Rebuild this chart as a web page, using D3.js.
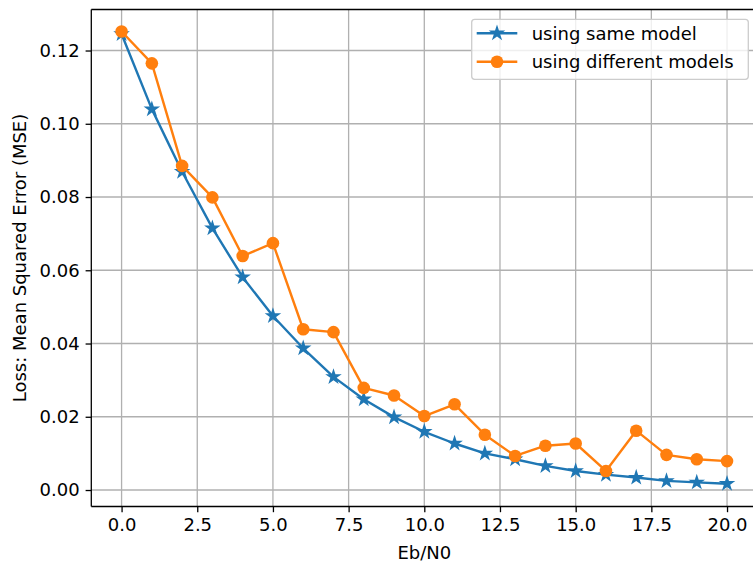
<!DOCTYPE html>
<html><head><meta charset="utf-8">
<script src="https://cdn.jsdelivr.net/npm/d3@7"></script>
<style>body{margin:0;background:#fff;} svg{display:block;font-family:"DejaVu Sans",sans-serif;}</style>
</head><body>
<svg id="c" width="753" height="562"></svg>
<script>
const xValues = d3.range(0, 21);
const sameModel = [0.1245,0.104,0.0869,0.0715,0.0581,0.0475,0.0387,0.0309,0.0248,0.0199,0.0159,0.0127,0.0100,0.0084,0.0066,0.0052,0.0042,0.0034,0.0025,0.0021,0.0017];
const diffModels = [0.1252,0.1165,0.0885,0.0799,0.0639,0.0674,0.0439,0.0431,0.0279,0.0258,0.0202,0.0234,0.0151,0.0093,0.0121,0.0127,0.0052,0.0162,0.0096,0.0084,0.0079];
const xTicks = [0, 2.5, 5, 7.5, 10, 12.5, 15, 17.5, 20];
const yTicks = [0, 0.02, 0.04, 0.06, 0.08, 0.10, 0.12];
const seriesNames = ["using same model", "using different models"];
const colors = ["#1f77b4", "#ff7f0e"];

const svg = d3.select("#c");
const L = 91.3, R = 757.3, T = 9.5, B = 506.5;
const x = d3.scaleLinear().domain([-1, 21]).range([L, R]);
const y = d3.scaleLinear().domain([-0.0045, 0.1312]).range([B, T]);
const fs = 18;

// grid
const g = svg.append("g");
g.selectAll(".gx").data(xTicks).join("line")
  .attr("x1", d => x(d)).attr("x2", d => x(d)).attr("y1", T).attr("y2", B)
  .attr("stroke", "#b0b0b0").attr("stroke-width", 1.3);
g.selectAll(".gy").data(yTicks).join("line")
  .attr("y1", d => y(d)).attr("y2", d => y(d)).attr("x1", L).attr("x2", R)
  .attr("stroke", "#b0b0b0").attr("stroke-width", 1.3);

// axes
const xAxis = d3.axisBottom(x).tickValues(xTicks).tickFormat(d3.format(".1f")).tickSizeInner(5.7).tickSizeOuter(0).tickPadding(6);
const yAxis = d3.axisLeft(y).tickValues(yTicks).tickFormat(d3.format(".2f")).tickSizeInner(5.7).tickSizeOuter(0).tickPadding(6);
const gx = svg.append("g").attr("transform", `translate(0,${B})`).call(xAxis);
const gy = svg.append("g").attr("transform", `translate(${L},0)`).call(yAxis);
[gx, gy].forEach(a => {
  a.select(".domain").remove();
  a.selectAll(".tick line").attr("stroke", "#000").attr("stroke-width", 1.3);
  a.selectAll(".tick text").attr("fill", "#000").attr("font-size", fs).attr("font-family", "DejaVu Sans");
});
// spines
svg.append("line").attr("x1", L).attr("x2", R).attr("y1", B).attr("y2", B).attr("stroke", "#000").attr("stroke-width", 1.3);
svg.append("line").attr("x1", L).attr("x2", R).attr("y1", T).attr("y2", T).attr("stroke", "#000").attr("stroke-width", 1.3);
svg.append("line").attr("x1", L).attr("x2", L).attr("y1", T).attr("y2", B).attr("stroke", "#000").attr("stroke-width", 1.3);

// labels
svg.append("text").attr("x", (L + R) / 2).attr("y", 559).attr("text-anchor", "middle")
  .attr("font-size", fs).text("Eb/N0");
svg.append("text").attr("transform", `translate(26,${(T + B) / 2}) rotate(-90)`).attr("text-anchor", "middle")
  .attr("font-size", fs).text("Loss: Mean Squared Error (MSE)");

const star = d3.symbol().type(d3.symbolStar).size(85);
const line = d3.line().x((d, i) => x(xValues[i])).y(d => y(d));

// series
function drawSeries(data, color, marker) {
  svg.append("path").datum(data).attr("d", line).attr("fill", "none")
    .attr("stroke", color).attr("stroke-width", 2.4).attr("stroke-linejoin", "round");
  const m = svg.append("g");
  data.forEach((d, i) => {
    if (marker === "star") {
      m.append("path").attr("d", star).attr("transform", `translate(${x(xValues[i])},${y(d)})`).attr("fill", color);
    } else {
      m.append("circle").attr("cx", x(xValues[i])).attr("cy", y(d)).attr("r", 6.3).attr("fill", color);
    }
  });
}
drawSeries(sameModel, colors[0], "star");
drawSeries(diffModels, colors[1], "circle");

// legend
const lg = svg.append("g");
lg.append("rect").attr("x", 471.7).attr("y", 19.3).attr("width", 276.6).attr("height", 60).attr("rx", 3)
  .attr("fill", "#fff").attr("fill-opacity", 0.8).attr("stroke", "#cccccc").attr("stroke-width", 1.3);
seriesNames.forEach((name, i) => {
  const cy = 33.3 + i * 28.4;
  lg.append("line").attr("x1", 476.7).attr("x2", 517.3).attr("y1", cy).attr("y2", cy)
    .attr("stroke", colors[i]).attr("stroke-width", 2.4);
  if (i === 0) lg.append("path").attr("d", star).attr("transform", `translate(497,${cy})`).attr("fill", colors[i]);
  else lg.append("circle").attr("cx", 497).attr("cy", cy).attr("r", 6.3).attr("fill", colors[i]);
  lg.append("text").attr("x", 531.7).attr("y", cy).attr("dy", "0.35em").attr("font-size", fs).text(name);
});
</script>
</body></html>
